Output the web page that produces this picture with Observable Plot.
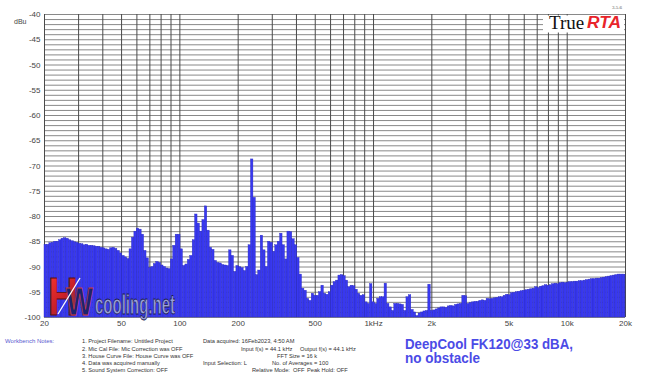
<!DOCTYPE html>
<html><head><meta charset="utf-8">
<script src="https://cdn.jsdelivr.net/npm/d3@7"></script>
<script src="https://cdn.jsdelivr.net/npm/@observablehq/plot@0.6"></script>
<style>
body{margin:0;background:#fff}
#chart{position:relative;width:649px;height:377px}
</style>
</head><body><div id="chart"></div>
<script>
// 1/24-octave band levels (dBu), one array per octave starting at 20 Hz
const oct1 = [-85.6,-85.6,-85.3,-85.2,-85.0,-85.0,-84.7,-84.4,-84.3,-84.4,-84.7,-84.9,-85.1,-85.2,-85.4,-85.5,-85.7,-85.6,-85.8,-85.8,-85.9,-86.0,-86.0,-86.2];
const oct2 = [-86.3,-86.5,-86.6,-86.3,-86.2,-86.4,-86.8,-87.3,-87.8,-88.1,-88.4,-86.5,-84.2,-83.0,-82.4,-82.6,-83.6,-86.8,-88.3,-90.2,-90.0,-89.4,-89.0,-89.2];
const oct3 = [-89.7,-90.0,-90.3,-90.4,-88.5,-85.8,-83.6,-83.6,-86.5,-89.8,-89.5,-88.6,-87.8,-84.7,-79.6,-81.4,-83.0,-80.7,-78.0,-82.8,-86.2,-86.6,-88.8,-89.2];
const oct4 = [-89.3,-89.6,-89.7,-89.8,-86.7,-87.8,-91.0,-89.8,-90.0,-90.2,-90.8,-90.0,-85.7,-68.7,-76.3,-91.6,-90.7,-83.8,-86.7,-90.0,-85.0,-85.2,-87.0,-85.7];
const oct5 = [-85.0,-83.4,-85.7,-88.5,-83.0,-83.1,-84.5,-85.7,-88.2,-91.5,-94.3,-94.7,-96.3,-96.7,-95.3,-95.7,-95.7,-95.0,-93.7,-95.3,-95.5,-95.0,-93.7,-93.0];
const oct6 = [-92.7,-91.7,-91.6,-91.8,-92.7,-94.0,-93.7,-93.8,-94.5,-95.3,-95.7,-95.6,-97.0,-97.3,-93.4,-97.0,-97.3,-96.3,-96.0,-96.0,-93.3,-97.3,-98.0,-98.7];
const oct7 = [-97.3,-97.3,-97.4,-97.5,-98.7,-96.0,-95.6,-98.5,-99.0,-99.7,-99.2,-99.0,-98.8,-98.7,-93.5,-98.7,-98.6,-98.4,-98.2,-98.0,-98.0,-98.1,-97.8,-97.7];
const oct8 = [-97.8,-97.5,-97.4,-97.3,-95.7,-95.8,-97.3,-97.1,-97.0,-96.9,-96.9,-96.7,-96.6,-96.7,-96.3,-96.4,-96.3,-96.2,-96.1,-96.0,-96.0,-95.7,-95.5,-95.6];
const oct9 = [-95.2,-95.1,-95.0,-94.9,-94.8,-94.7,-94.6,-94.5,-94.4,-94.3,-94.0,-94.2,-93.9,-93.8,-93.6,-93.7,-93.6,-93.4,-93.3,-93.4,-93.2,-93.1,-93.2,-93.1];
const oct10 = [-93.0,-93.0,-92.9,-92.9,-92.8,-92.8,-92.7,-92.6,-92.5,-92.4,-92.4,-92.3,-92.3,-92.2,-92.1,-92.0,-91.9,-91.8,-91.7,-91.6,-91.5,-91.5,-91.5,-91.6];

const xTicks = [20, 50, 100, 200, 500, 1000, 2000, 5000, 10000, 20000];
const xTickLabels = ["20", "50", "100", "200", "500", "1kHz", "2k", "5k", "10k", "20k"];
const yTicks = [-40, -45, -50, -55, -60, -65, -70, -75, -80, -85, -90, -95, -100];

const noteLines = [
  ["1. Project Filename: Untitled Project", "Data acquired: 16Feb2023, 4:50 AM", "", ""],
  ["2. Mic Cal File: Mic Correction was OFF", "", "Input f(s) = 44.1 kHz", "Output f(s) = 44.1 kHz"],
  ["3. House Curve File: House Curve was OFF", "", "FFT Size = 16 k", ""],
  ["4. Data was acquired manually", "Input Selection: L", "No. of Averages = 100", ""],
  ["5. Sound System Correction: OFF", "", "Relative Mode:  OFF", "Peak Hold: OFF"]
];

const levels = [...oct1, ...oct2, ...oct3, ...oct4, ...oct5, ...oct6, ...oct7, ...oct8, ...oct9, ...oct10];
const bands = levels.map((v, i) => ({
  f1: 20 * 2 ** (i / 24),
  f2: Math.min(20 * 2 ** ((i + 1) / 24), 20000),
  level: v
}));
const gridF = [];
for (const dec of [10, 100, 1000, 10000]) for (let m = 1; m <= 9; m++) { const f = m * dec; if (f >= 20 && f <= 20000) gridF.push(f); }
gridF.push(20000);

const FONT = "Liberation Sans, Arial, sans-serif";

const chart = Plot.plot({
  width: 649, height: 377,
  marginLeft: 44, marginRight: 24, marginTop: 14, marginBottom: 60,
  style: {fontFamily: FONT, fontSize: "8px", background: "#fff", overflow: "visible"},
  x: {type: "log", domain: [20, 20000], axis: null},
  y: {domain: [-100, -40]},
  marks: [
    Plot.ruleY(d3.range(-100, -39, 1), {stroke: "#7c7c7c", strokeWidth: 0.9}),
    Plot.ruleX(gridF, {stroke: "#4a4a4a", strokeWidth: 1}),
    Plot.rectY(bands, {x1: "f1", x2: "f2", y1: -100, y2: "level", fill: "#3838f0", stroke: "#2a2ac0", strokeWidth: 0.4}),
    Plot.axisY({ticks: yTicks, tickSize: 0, tickPadding: 4, tickFormat: d => String(d), label: null, color: "#444"}),
    Plot.text(xTicks, {x: d => d, text: (d, i) => xTickLabels[i], frameAnchor: "bottom", dy: 8, fill: "#444", fontSize: 8})
  ]
});
document.getElementById("chart").appendChild(chart);

const svg = d3.select(chart);
const defs = svg.append("defs");
const g1 = defs.append("linearGradient").attr("id", "hred").attr("x1", 0).attr("y1", 0).attr("x2", 0.6).attr("y2", 1);
g1.append("stop").attr("offset", "0%").attr("stop-color", "#ff3a30");
g1.append("stop").attr("offset", "60%").attr("stop-color", "#c82028");
g1.append("stop").attr("offset", "100%").attr("stop-color", "#6a3a55");

const ov = svg.append("g").attr("text-anchor", "start");

// dBu label
ov.append("text").attr("x", 14).attr("y", 24).attr("font-family", FONT).attr("font-size", 7).attr("fill", "#444").text("dBu");

// TrueRTA logo
ov.append("rect").attr("x", 543).attr("y", 15.5).attr("width", 81).attr("height", 17).attr("fill", "#fff");
ov.append("text").attr("x", 549).attr("y", 28.5).attr("font-family", "Liberation Serif, Times New Roman, serif").attr("font-size", 19).attr("fill", "#111").text("True");
ov.append("text").attr("x", 587).attr("y", 28).attr("font-family", FONT).attr("font-weight", "bold").attr("font-style", "italic").attr("font-size", 16).attr("fill", "#e8242a").attr("textLength", 34).attr("lengthAdjust", "spacingAndGlyphs").text("RTA");
ov.append("text").attr("x", 622).attr("y", 9).attr("text-anchor", "end").attr("font-family", "Liberation Serif, serif").attr("font-size", 5).attr("fill", "#555").text("3.5.6");

// HW cooling.net logo
ov.append("text").attr("x", 48).attr("y", 315).attr("font-family", FONT).attr("font-weight", "bold").attr("font-size", 53).attr("textLength", 30).attr("lengthAdjust", "spacingAndGlyphs").attr("fill", "url(#hred)").attr("stroke", "#5a1010").attr("stroke-width", 0.8).text("H");
ov.append("text").attr("x", 66).attr("y", 315).attr("font-family", FONT).attr("font-weight", "bold").attr("font-size", 39).attr("textLength", 27).attr("lengthAdjust", "spacingAndGlyphs").attr("fill", "#1c2470").attr("stroke", "#d03a3a").attr("stroke-width", 0.8).text("W");
ov.append("line").attr("x1", 58).attr("y1", 314).attr("x2", 80).attr("y2", 278).attr("stroke", "#fff").attr("stroke-width", 1.3);
ov.append("text").attr("x", 95).attr("y", 314).attr("font-family", FONT).attr("font-weight", "bold").attr("font-size", 27).attr("textLength", 80).attr("lengthAdjust", "spacingAndGlyphs").attr("fill", "#9aa0d8").attr("stroke", "#1a1a50").attr("stroke-width", 0.8).text("cooling.net");

// Workbench notes
ov.append("text").attr("x", 5).attr("y", 343.3).attr("font-family", FONT).attr("font-size", 6).attr("fill", "#5a5ad0").text("Workbench Notes:");
const colX = [82, 203, 241, 300];
noteLines.forEach((row, r) => {
  row.forEach((t, c) => {
    if (!t) return;
    let x = colX[c];
    if (r === 2 && c === 2) x = 277;
    if (r === 3 && c === 2) x = 272;
    if (r === 4 && c === 2) x = 252;
    if (r === 4 && c === 3) x = 307;
    ov.append("text").attr("x", x).attr("y", 343.3 + r * 7.2).attr("font-family", FONT).attr("font-size", 5.7).attr("fill", "#333").text(t);
  });
});

// Caption
ov.append("text").attr("x", 405).attr("y", 349).attr("font-family", FONT).attr("font-weight", "bold").attr("font-size", 14.5).attr("fill", "#4b4be6").attr("textLength", 168).attr("lengthAdjust", "spacingAndGlyphs").text("DeepCool FK120@33 dBA,");
ov.append("text").attr("x", 405).attr("y", 363).attr("font-family", FONT).attr("font-weight", "bold").attr("font-size", 14.5).attr("fill", "#4b4be6").attr("textLength", 75).attr("lengthAdjust", "spacingAndGlyphs").text("no obstacle");
</script>
</body></html>
